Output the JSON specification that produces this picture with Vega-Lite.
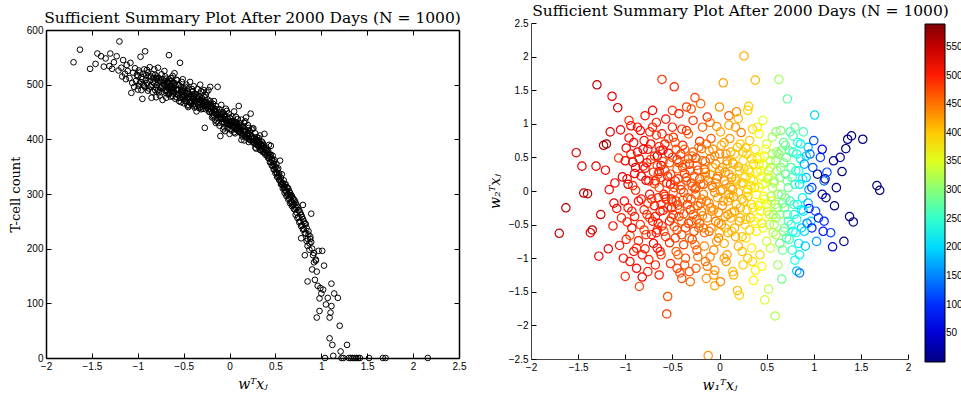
{
"$schema":"https://vega.github.io/schema/vega-lite/v6.json",
"background":"white",
"padding":{"left":9,"top":3,"right":0,"bottom":0},
"spacing":22,
"config":{"view":{"stroke":null},"axis":{"grid":false,"labelFont":"Liberation Sans","labelFontSize":10,"labelColor":"black","tickColor":"black","domainColor":"black","titleFont":"DejaVu Serif","titleFontWeight":"normal","titleColor":"black","titleFontSize":13}},
"datasets":{"d":[
{"x":-1.70,"c":541,"v":-0.63},{"x":-1.63,"c":564,"v":-0.25},{"x":-1.52,"c":529,"v":0.57},{"x":-1.46,"c":538,"v":0.37},{"x":-1.44,"c":557,"v":-0.03},{"x":-1.40,"c":552,"v":-0.04},{"x":-1.37,"c":533,"v":-0.62},{"x":-1.35,"c":548,"v":-0.58},{"x":-1.31,"c":534,"v":0.37},{"x":-1.30,"c":557,"v":1.58},{"x":-1.28,"c":529,"v":-0.97},{"x":-1.26,"c":541,"v":-0.35},{"x":-1.23,"c":552,"v":0.68},{"x":-1.20,"c":579,"v":0.70},{"x":-1.21,"c":526,"v":0.31},{"x":-1.18,"c":531,"v":-0.86},{"x":-1.17,"c":515,"v":0.02},{"x":-1.16,"c":545,"v":0.88},{"x":-1.14,"c":520,"v":1.41},{"x":-1.13,"c":510,"v":-0.52},{"x":-1.12,"c":536,"v":-0.18},{"x":-1.11,"c":525,"v":0.12},
{"x":-1.09,"c":512,"v":-0.26},{"x":-1.08,"c":540,"v":1.24},{"x":-1.07,"c":485,"v":0.49},{"x":-1.06,"c":503,"v":-0.81},{"x":-1.05,"c":522,"v":0.91},{"x":-1.04,"c":496,"v":-0.40},{"x":-1.03,"c":530,"v":0.21},{"x":-1.02,"c":507,"v":-1.00},{"x":-1.01,"c":518,"v":-0.15},{"x":-1.00,"c":491,"v":-1.27},{"x":-0.99,"c":526,"v":0.64},{"x":-0.98,"c":502,"v":-0.46},{"x":-0.97,"c":551,"v":0.10},{"x":-0.96,"c":514,"v":0.79},{"x":-0.95,"c":474,"v":-0.66},{"x":-0.94,"c":520,"v":0.97},{"x":-0.93,"c":498,"v":-0.30},{"x":-0.92,"c":561,"v":0.43},{"x":-0.91,"c":509,"v":-0.90},{"x":-0.90,"c":527,"v":0.26},{"x":-0.89,"c":489,"v":0.01},{"x":-0.88,"c":515,"v":-1.15},{"x":-0.87,"c":532,"v":0.58},{"x":-0.86,"c":496,"v":-0.74},{"x":-0.85,"c":476,"v":-1.42},{"x":-0.84,"c":519,"v":0.90},{"x":-0.83,"c":505,"v":-0.12},{"x":-0.82,"c":528,"v":-1.28},{"x":-0.81,"c":490,"v":0.37},{"x":-0.80,"c":477,"v":-0.58},{"x":-0.80,"c":512,"v":0.75},
{"x":-0.79,"c":500,"v":-0.86},{"x":-0.78,"c":531,"v":0.16},{"x":-0.77,"c":486,"v":-0.35},{"x":-0.76,"c":508,"v":0.62},{"x":-0.75,"c":494,"v":-1.02},{"x":-0.74,"c":519,"v":-0.05},{"x":-0.73,"c":472,"v":0.47},{"x":-0.72,"c":503,"v":-0.65},{"x":-0.71,"c":525,"v":1.20},{"x":-0.70,"c":489,"v":0.28},{"x":-0.69,"c":511,"v":-0.22},{"x":-0.68,"c":497,"v":-1.10},{"x":-0.67,"c":482,"v":0.83},{"x":-0.66,"c":554,"v":0.52},{"x":-0.65,"c":507,"v":-0.48},{"x":-0.64,"c":478,"v":0.05},{"x":-0.63,"c":496,"v":-0.90},{"x":-0.62,"c":516,"v":0.38},{"x":-0.61,"c":488,"v":1.66},{"x":-0.60,"c":503,"v":-0.29},{"x":-0.59,"c":474,"v":-0.60},{"x":-0.58,"c":509,"v":0.70},{"x":-0.57,"c":492,"v":-0.12},{"x":-0.56,"c":481,"v":-1.83},{"x":-0.55,"c":499,"v":0.22},{"x":-0.55,"c":470,"v":-1.57},{"x":-0.54,"c":540,"v":0.56},{"x":-0.53,"c":486,"v":-0.77},{"x":-0.52,"c":505,"v":0.10},{"x":-0.51,"c":477,"v":-0.40},{"x":-0.50,"c":494,"v":0.95},{"x":-0.50,"c":466,"v":-0.16},
{"x":-0.79,"c":515,"v":0.34},{"x":-0.76,"c":480,"v":-0.18},{"x":-0.74,"c":498,"v":0.88},{"x":-0.71,"c":506,"v":-0.45},{"x":-0.69,"c":476,"v":0.11},{"x":-0.66,"c":492,"v":-0.58},{"x":-0.64,"c":512,"v":0.29},{"x":-0.62,"c":484,"v":-0.95},{"x":-0.60,"c":521,"v":0.61},{"x":-0.58,"c":490,"v":-0.08},{"x":-0.57,"c":508,"v":1.07},{"x":-0.53,"c":468,"v":0.42},{"x":-0.52,"c":488,"v":-1.08},{"x":-0.51,"c":510,"v":-0.25},
{"x":-0.49,"c":488,"v":0.80},{"x":-0.48,"c":471,"v":-0.53},{"x":-0.47,"c":500,"v":0.15},{"x":-0.46,"c":462,"v":-0.90},{"x":-0.45,"c":493,"v":0.47},{"x":-0.44,"c":478,"v":-0.21},{"x":-0.43,"c":505,"v":1.15},{"x":-0.42,"c":466,"v":-1.22},{"x":-0.41,"c":487,"v":0.02},{"x":-0.40,"c":474,"v":-0.65},{"x":-0.39,"c":497,"v":0.68},{"x":-0.38,"c":458,"v":-0.34},{"x":-0.37,"c":483,"v":0.26},{"x":-0.36,"c":470,"v":-1.00},{"x":-0.35,"c":492,"v":0.90},{"x":-0.34,"c":463,"v":-0.10},{"x":-0.33,"c":479,"v":-0.48},{"x":-0.32,"c":500,"v":0.40},{"x":-0.31,"c":455,"v":-1.35},{"x":-0.30,"c":475,"v":0.12},{"x":-0.29,"c":486,"v":-0.72},{"x":-0.28,"c":468,"v":0.58},{"x":-0.27,"c":421,"v":-0.26},{"x":-0.26,"c":481,"v":1.39},{"x":-0.25,"c":459,"v":-0.05},{"x":-0.24,"c":473,"v":-0.88},{"x":-0.23,"c":490,"v":0.31},{"x":-0.22,"c":450,"v":-0.55},{"x":-0.21,"c":496,"v":0.74},{"x":-0.20,"c":465,"v":-0.18},
{"x":-0.49,"c":470,"v":-0.02},{"x":-0.47,"c":484,"v":-0.70},{"x":-0.45,"c":459,"v":0.33},{"x":-0.43,"c":476,"v":-0.38},{"x":-0.41,"c":492,"v":0.55},{"x":-0.39,"c":465,"v":-0.14},{"x":-0.37,"c":471,"v":-1.10},{"x":-0.35,"c":480,"v":0.20},{"x":-0.33,"c":457,"v":0.85},{"x":-0.31,"c":488,"v":-0.28},{"x":-0.29,"c":463,"v":0.07},{"x":-0.27,"c":477,"v":-0.60},{"x":-0.25,"c":486,"v":0.49},{"x":-0.23,"c":455,"v":-0.98},{"x":-0.21,"c":470,"v":0.18},{"x":-0.48,"c":496,"v":1.55},{"x":-0.44,"c":462,"v":-0.95},{"x":-0.40,"c":488,"v":0.92},{"x":-0.36,"c":451,"v":0.40},{"x":-0.32,"c":472,"v":-1.20},{"x":-0.28,"c":490,"v":1.05},{"x":-0.24,"c":461,"v":-0.42},{"x":-0.46,"c":476,"v":0.62},{"x":-0.38,"c":482,"v":-0.80},{"x":-0.30,"c":460,"v":-0.45},{"x":-0.26,"c":468,"v":0.03},
{"x":-0.19,"c":458,"v":0.63},{"x":-0.18,"c":442,"v":-0.37},{"x":-0.17,"c":470,"v":0.10},{"x":-0.16,"c":436,"v":-0.82},{"x":-0.15,"c":461,"v":0.44},{"x":-0.14,"c":447,"v":-0.15},{"x":-0.13,"c":496,"v":1.10},{"x":-0.12,"c":430,"v":-2.45},{"x":-0.11,"c":455,"v":-0.60},{"x":-0.10,"c":406,"v":0.25},{"x":-0.10,"c":440,"v":-0.98},{"x":-0.09,"c":463,"v":0.78},{"x":-0.08,"c":431,"v":-0.30},{"x":-0.07,"c":449,"v":0.05},{"x":-0.06,"c":422,"v":-1.25},{"x":-0.05,"c":444,"v":0.52},{"x":-0.05,"c":415,"v":-1.41},{"x":-0.04,"c":456,"v":-0.45},{"x":-0.03,"c":434,"v":0.96},{"x":-0.02,"c":420,"v":-0.10},{"x":-0.01,"c":447,"v":-0.70},{"x":0.00,"c":428,"v":0.30},{"x":0.01,"c":438,"v":-1.35},{"x":0.02,"c":416,"v":0.68},{"x":0.03,"c":442,"v":-0.22},{"x":0.04,"c":425,"v":1.61},{"x":0.05,"c":451,"v":0.15},{"x":0.06,"c":411,"v":-0.55},{"x":0.07,"c":430,"v":-1.05},{"x":0.08,"c":421,"v":0.40},{"x":0.09,"c":437,"v":-0.35},{"x":0.10,"c":461,"v":1.12},{"x":0.10,"c":415,"v":-0.05},
{"x":-0.19,"c":440,"v":-0.12},{"x":-0.17,"c":452,"v":-0.55},{"x":-0.15,"c":430,"v":0.22},{"x":-0.13,"c":446,"v":-1.12},{"x":-0.11,"c":425,"v":0.60},{"x":-0.09,"c":438,"v":-0.25},{"x":-0.07,"c":418,"v":0.35},{"x":-0.03,"c":452,"v":0.18},{"x":-0.01,"c":427,"v":-0.48},{"x":0.01,"c":419,"v":0.88},{"x":0.03,"c":433,"v":0.02},{"x":0.05,"c":413,"v":-0.78},{"x":0.07,"c":441,"v":0.55},{"x":0.09,"c":424,"v":-0.15},{"x":-0.18,"c":465,"v":0.95},{"x":-0.14,"c":433,"v":-1.30},{"x":-0.06,"c":443,"v":-0.88},{"x":0.00,"c":410,"v":-0.62},{"x":0.06,"c":432,"v":0.28},{"x":-0.16,"c":455,"v":0.32},{"x":-0.04,"c":429,"v":0.12},{"x":0.08,"c":418,"v":-0.95},
{"x":0.11,"c":430,"v":0.78},{"x":0.12,"c":412,"v":-0.40},{"x":0.13,"c":436,"v":0.20},{"x":0.14,"c":405,"v":-1.20},{"x":0.15,"c":423,"v":-0.08},{"x":0.16,"c":398,"v":0.55},{"x":0.17,"c":418,"v":-0.68},{"x":0.18,"c":440,"v":1.18},{"x":0.19,"c":409,"v":-1.48},{"x":0.20,"c":426,"v":0.36},{"x":0.21,"c":395,"v":-1.55},{"x":0.22,"c":415,"v":-0.25},{"x":0.23,"c":447,"v":0.87},{"x":0.24,"c":402,"v":-0.90},{"x":0.25,"c":420,"v":0.12},{"x":0.26,"c":420,"v":2.01},{"x":0.27,"c":392,"v":-0.50},{"x":0.28,"c":411,"v":0.64},{"x":0.29,"c":383,"v":-0.02},{"x":0.30,"c":404,"v":-1.00},{"x":0.31,"c":398,"v":1.26},{"x":0.32,"c":388,"v":0.28},{"x":0.33,"c":407,"v":-0.40},{"x":0.34,"c":380,"v":-0.85},{"x":0.35,"c":396,"v":0.92},{"x":0.36,"c":377,"v":-1.33},{"x":0.37,"c":390,"v":0.05},{"x":0.38,"c":410,"v":1.65},{"x":0.39,"c":372,"v":-0.60},{"x":0.40,"c":385,"v":0.48},
{"x":0.12,"c":425,"v":0.05},{"x":0.14,"c":416,"v":0.42},{"x":0.16,"c":430,"v":-0.30},{"x":0.18,"c":404,"v":0.15},{"x":0.20,"c":412,"v":-0.82},{"x":0.22,"c":399,"v":0.70},{"x":0.24,"c":418,"v":-0.12},{"x":0.26,"c":396,"v":0.33},{"x":0.28,"c":385,"v":-0.70},{"x":0.30,"c":395,"v":0.02},{"x":0.32,"c":402,"v":0.75},{"x":0.34,"c":390,"v":-0.20},{"x":0.36,"c":394,"v":0.40},{"x":0.38,"c":376,"v":-1.18},{"x":0.13,"c":399,"v":-0.60},{"x":0.17,"c":433,"v":0.95},{"x":0.21,"c":421,"v":-0.45},{"x":0.25,"c":405,"v":0.58},{"x":0.29,"c":400,"v":-0.28},{"x":0.33,"c":381,"v":0.18},
{"x":0.41,"c":378,"v":-0.22},{"x":0.42,"c":366,"v":0.85},{"x":0.43,"c":390,"v":-0.95},{"x":0.44,"c":358,"v":0.30},{"x":0.45,"c":388,"v":-0.48},{"x":0.46,"c":352,"v":1.05},{"x":0.47,"c":370,"v":-0.08},{"x":0.48,"c":345,"v":-1.62},{"x":0.49,"c":362,"v":0.62},{"x":0.50,"c":338,"v":-0.75},{"x":0.51,"c":355,"v":0.18},{"x":0.52,"c":331,"v":-1.46},{"x":0.53,"c":347,"v":-0.35},{"x":0.54,"c":326,"v":0.45},{"x":0.55,"c":361,"v":-0.15},{"x":0.56,"c":318,"v":0.80},{"x":0.57,"c":336,"v":-0.62},{"x":0.58,"c":310,"v":0.12},{"x":0.59,"c":325,"v":-1.86},{"x":0.60,"c":302,"v":-0.40},{"x":0.61,"c":318,"v":0.58},{"x":0.62,"c":296,"v":-0.05},{"x":0.63,"c":312,"v":1.66},{"x":0.64,"c":290,"v":-0.78},{"x":0.65,"c":305,"v":0.35},{"x":0.66,"c":283,"v":-1.31},{"x":0.67,"c":298,"v":-0.18},{"x":0.68,"c":278,"v":0.72},{"x":0.69,"c":292,"v":-0.55},{"x":0.70,"c":273,"v":0.25},
{"x":0.42,"c":380,"v":0.40},{"x":0.44,"c":372,"v":-0.30},{"x":0.46,"c":365,"v":0.10},{"x":0.48,"c":360,"v":0.52},{"x":0.50,"c":350,"v":-0.20},{"x":0.52,"c":345,"v":0.30},{"x":0.54,"c":338,"v":-0.85},{"x":0.56,"c":330,"v":0.05},{"x":0.58,"c":320,"v":-0.50},{"x":0.60,"c":312,"v":0.88},{"x":0.62,"c":305,"v":-0.25},{"x":0.64,"c":300,"v":0.20},{"x":0.66,"c":295,"v":0.60},{"x":0.68,"c":286,"v":-0.60},{"x":0.70,"c":282,"v":-0.10},
{"x":0.71,"c":288,"v":0.50},{"x":0.72,"c":275,"v":1.37},{"x":0.72,"c":262,"v":-0.35},{"x":0.73,"c":280,"v":0.05},{"x":0.74,"c":256,"v":-0.72},{"x":0.75,"c":270,"v":0.88},{"x":0.76,"c":248,"v":-0.50},{"x":0.77,"c":266,"v":0.20},{"x":0.78,"c":219,"v":-0.60},{"x":0.78,"c":241,"v":0.58},{"x":0.79,"c":258,"v":-0.20},{"x":0.80,"c":280,"v":0.95},{"x":0.80,"c":235,"v":-1.03},{"x":0.81,"c":250,"v":0.30},{"x":0.82,"c":188,"v":-1.19},{"x":0.82,"c":228,"v":-0.42},{"x":0.83,"c":245,"v":0.72},{"x":0.84,"c":214,"v":-0.78},{"x":0.85,"c":205,"v":0.10},{"x":0.85,"c":140,"v":-1.22},{"x":0.86,"c":232,"v":0.48},{"x":0.87,"c":198,"v":-0.55},{"x":0.88,"c":222,"v":-0.10},{"x":0.89,"c":264,"v":0.88},{"x":0.89,"c":212,"v":-0.30},{"x":0.90,"c":162,"v":0.40},{"x":0.91,"c":188,"v":-0.82},{"x":0.92,"c":175,"v":0.20},{"x":0.93,"c":143,"v":-0.48},{"x":0.94,"c":180,"v":0.65},{"x":0.95,"c":158,"v":0.02},{"x":0.95,"c":74,"v":-0.26},
{"x":0.96,"c":132,"v":0.55},{"x":0.97,"c":196,"v":-0.45},{"x":0.98,"c":109,"v":0.05},{"x":0.98,"c":86,"v":-0.55},{"x":0.99,"c":128,"v":0.35},{"x":1.00,"c":118,"v":0.75},{"x":1.01,"c":196,"v":1.13},{"x":1.02,"c":125,"v":-0.30},{"x":1.03,"c":169,"v":-0.75},{"x":1.04,"c":0,"v":0.25},{"x":1.05,"c":98,"v":-0.40},{"x":1.07,"c":110,"v":0.50},{"x":1.09,"c":74,"v":0.62},{"x":1.09,"c":36,"v":-0.05},{"x":1.10,"c":83,"v":-0.60},{"x":1.11,"c":136,"v":0.15},{"x":1.11,"c":95,"v":-0.45},{"x":1.12,"c":24,"v":0.18},{"x":1.13,"c":4,"v":-0.10},{"x":1.14,"c":118,"v":0.28},{"x":1.18,"c":110,"v":-0.62},{"x":1.20,"c":59,"v":-0.83},{"x":1.21,"c":12,"v":0.45},{"x":1.22,"c":0,"v":-0.22},{"x":1.24,"c":0,"v":0.05},{"x":1.28,"c":24,"v":0.50},{"x":1.30,"c":0,"v":0.29},{"x":1.32,"c":0,"v":-0.75},{"x":1.34,"c":0,"v":0.63},{"x":1.36,"c":0,"v":0.77},{"x":1.38,"c":0,"v":-0.38},{"x":1.40,"c":0,"v":0.82},{"x":1.42,"c":0,"v":-0.46},{"x":1.52,"c":0,"v":0.77},{"x":1.67,"c":0,"v":0.08},{"x":1.70,"c":0,"v":0.01},{"x":2.16,"c":0,"v":-0.14},
{"x":-0.68,"c":490,"v":0.15},{"x":-0.67,"c":505,"v":-0.62},{"x":-0.66,"c":483,"v":0.38},{"x":-0.65,"c":497,"v":-0.10},{"x":-0.64,"c":488,"v":0.66},{"x":-0.63,"c":502,"v":-0.30},{"x":-0.62,"c":479,"v":0.20},{"x":-0.61,"c":494,"v":-0.52},{"x":-0.60,"c":486,"v":0.44},{"x":-0.59,"c":498,"v":-0.05},{"x":-0.58,"c":477,"v":0.30},{"x":-0.57,"c":490,"v":-0.68},{"x":-0.56,"c":500,"v":0.12},{"x":-0.55,"c":484,"v":-0.25},{"x":-0.54,"c":476,"v":0.78},{"x":-0.53,"c":495,"v":-0.45},{"x":-0.52,"c":481,"v":0.25},{"x":-0.51,"c":490,"v":-0.12},{"x":-0.50,"c":474,"v":0.50},{"x":-0.49,"c":486,"v":-0.35},
{"x":-0.48,"c":479,"v":0.05},{"x":-0.47,"c":470,"v":0.72},{"x":-0.46,"c":488,"v":-0.15},{"x":-0.45,"c":474,"v":-0.58},{"x":-0.44,"c":483,"v":0.18},{"x":-0.43,"c":467,"v":0.42},{"x":-0.42,"c":479,"v":-0.28},{"x":-0.41,"c":470,"v":0.08},{"x":-0.40,"c":462,"v":-0.45},{"x":-0.39,"c":478,"v":0.35},{"x":-0.38,"c":470,"v":-0.02},{"x":-0.37,"c":461,"v":0.62},{"x":-0.36,"c":476,"v":-0.55},{"x":-0.35,"c":466,"v":0.15},{"x":-0.34,"c":474,"v":-0.20},{"x":-0.33,"c":468,"v":0.48},{"x":-0.32,"c":459,"v":-0.70},{"x":-0.31,"c":472,"v":0.30},{"x":-0.30,"c":466,"v":-0.12},{"x":-0.29,"c":456,"v":0.52},
{"x":-0.28,"c":470,"v":-0.35},{"x":-0.27,"c":462,"v":0.22},{"x":-0.26,"c":455,"v":-0.80},{"x":-0.25,"c":468,"v":0.05},{"x":-0.24,"c":458,"v":0.38},{"x":-0.23,"c":464,"v":-0.22},{"x":-0.22,"c":451,"v":0.65},{"x":-0.21,"c":460,"v":-0.48},{"x":-0.20,"c":453,"v":0.10},{"x":-0.19,"c":448,"v":-0.30},{"x":-0.18,"c":458,"v":0.45},{"x":-0.17,"c":444,"v":-0.05},{"x":-0.16,"c":452,"v":-0.62},{"x":-0.15,"c":446,"v":0.28},{"x":-0.14,"c":455,"v":0.70},{"x":-0.13,"c":440,"v":-0.40},{"x":-0.12,"c":449,"v":0.15},{"x":-0.11,"c":442,"v":-0.18},{"x":-0.10,"c":450,"v":0.48},{"x":-0.09,"c":437,"v":-0.55},
{"x":-0.08,"c":446,"v":0.08},{"x":-0.07,"c":438,"v":0.62},{"x":-0.06,"c":431,"v":-0.28},{"x":-0.05,"c":441,"v":-0.02},{"x":-0.04,"c":435,"v":0.40},{"x":-0.03,"c":428,"v":-0.75},{"x":-0.02,"c":438,"v":0.22},{"x":-0.01,"c":432,"v":-0.32},{"x":0.00,"c":440,"v":0.55},{"x":0.01,"c":426,"v":0.00},{"x":0.02,"c":433,"v":-0.50},{"x":0.03,"c":424,"v":0.35},{"x":0.04,"c":430,"v":-0.15},{"x":0.05,"c":421,"v":0.72},{"x":0.06,"c":427,"v":-0.38},{"x":0.07,"c":418,"v":0.10},{"x":0.08,"c":428,"v":0.45},{"x":0.09,"c":416,"v":-0.62},{"x":0.10,"c":424,"v":0.25},{"x":0.11,"c":414,"v":-0.10},
{"x":0.12,"c":420,"v":0.58},{"x":0.13,"c":411,"v":-0.32},{"x":0.14,"c":423,"v":0.02},{"x":0.15,"c":408,"v":0.40},{"x":0.16,"c":415,"v":-0.55},{"x":0.17,"c":406,"v":0.18},{"x":0.18,"c":414,"v":-0.20},{"x":0.19,"c":403,"v":0.65},{"x":0.20,"c":410,"v":-0.02},{"x":0.21,"c":402,"v":0.30},{"x":0.22,"c":408,"v":-0.40},{"x":0.23,"c":398,"v":0.12},{"x":0.24,"c":406,"v":-0.68},{"x":0.25,"c":396,"v":0.45},{"x":0.26,"c":402,"v":-0.15},{"x":0.27,"c":394,"v":0.20},{"x":0.28,"c":399,"v":-0.42},{"x":0.29,"c":391,"v":0.55},{"x":0.30,"c":397,"v":-0.08},{"x":0.31,"c":388,"v":0.32},
{"x":0.32,"c":394,"v":-0.58},{"x":0.33,"c":386,"v":0.08},{"x":0.34,"c":392,"v":0.48},{"x":0.35,"c":383,"v":-0.25},{"x":0.36,"c":388,"v":0.15},{"x":0.37,"c":378,"v":-0.45},{"x":0.38,"c":384,"v":0.62},{"x":0.39,"c":375,"v":-0.05},{"x":0.40,"c":380,"v":0.28},{"x":0.41,"c":370,"v":-0.40},{"x":0.42,"c":375,"v":0.05},{"x":0.43,"c":366,"v":0.50},{"x":0.44,"c":368,"v":-0.18},{"x":0.45,"c":358,"v":0.22},{"x":0.46,"c":362,"v":-0.55},{"x":0.47,"c":352,"v":0.38},{"x":0.48,"c":355,"v":-0.12},{"x":0.49,"c":345,"v":0.12},{"x":0.50,"c":348,"v":0.70},{"x":0.51,"c":340,"v":-0.30},
{"x":0.52,"c":338,"v":0.20},{"x":0.53,"c":332,"v":-0.50},{"x":0.54,"c":334,"v":0.35},{"x":0.55,"c":325,"v":-0.08},{"x":0.56,"c":322,"v":0.55},{"x":0.57,"c":318,"v":-0.35},{"x":0.58,"c":316,"v":0.15},{"x":0.59,"c":312,"v":-0.20},{"x":0.60,"c":308,"v":0.45},
{"x":-1.00,"c":515,"v":0.45},{"x":-0.99,"c":498,"v":-0.72},{"x":-0.98,"c":522,"v":0.18},{"x":-0.97,"c":505,"v":-0.25},{"x":-0.96,"c":490,"v":1.05},{"x":-0.95,"c":510,"v":-1.05},{"x":-0.94,"c":500,"v":0.55},{"x":-0.93,"c":528,"v":-0.55},{"x":-0.92,"c":495,"v":0.08},{"x":-0.91,"c":517,"v":0.72},{"x":-0.90,"c":503,"v":-0.38},{"x":-0.89,"c":522,"v":0.35},{"x":-0.88,"c":493,"v":-0.85},{"x":-0.87,"c":507,"v":0.95},{"x":-0.86,"c":515,"v":-0.15},{"x":-0.85,"c":499,"v":0.48},{"x":-0.84,"c":487,"v":-0.50},{"x":-0.83,"c":512,"v":0.22},{"x":-0.82,"c":502,"v":-0.95},{"x":-0.81,"c":518,"v":0.62},
{"x":-0.80,"c":495,"v":-0.28},{"x":-0.79,"c":509,"v":1.12},{"x":-0.78,"c":490,"v":-0.65},{"x":-0.77,"c":512,"v":0.42},{"x":-0.76,"c":497,"v":-1.20},{"x":-0.75,"c":505,"v":0.15},{"x":-0.74,"c":486,"v":-0.40},{"x":-0.73,"c":510,"v":0.70},{"x":-0.72,"c":494,"v":-0.12},{"x":-0.71,"c":500,"v":0.95},{"x":-0.70,"c":515,"v":-0.78},{"x":-0.69,"c":488,"v":0.52},{"x":-0.68,"c":503,"v":-0.38},{"x":-0.67,"c":495,"v":1.02},{"x":-0.66,"c":510,"v":-0.85},{"x":-0.65,"c":485,"v":0.25},{"x":-0.64,"c":498,"v":-1.25},{"x":-0.63,"c":507,"v":0.60},{"x":-0.62,"c":490,"v":-0.20},{"x":-0.61,"c":502,"v":0.85},
{"x":0.60,"c":318,"v":-0.65},{"x":0.61,"c":305,"v":0.30},{"x":0.62,"c":312,"v":-1.10},{"x":0.63,"c":298,"v":0.55},{"x":0.64,"c":310,"v":-0.35},{"x":0.65,"c":292,"v":0.90},{"x":0.66,"c":302,"v":-0.05},{"x":0.67,"c":285,"v":-0.88},{"x":0.68,"c":296,"v":0.42},{"x":0.69,"c":280,"v":-0.25},{"x":0.70,"c":290,"v":0.68},{"x":0.71,"c":272,"v":-0.70},{"x":0.72,"c":284,"v":0.15},{"x":0.73,"c":266,"v":-0.45},{"x":0.74,"c":276,"v":0.60},{"x":0.75,"c":258,"v":-0.15},{"x":0.76,"c":270,"v":0.35},{"x":0.77,"c":250,"v":-0.88},{"x":0.78,"c":262,"v":0.82},{"x":0.79,"c":243,"v":-0.35},
{"x":0.80,"c":254,"v":0.10},{"x":0.81,"c":236,"v":-0.62},{"x":0.82,"c":246,"v":0.55},{"x":0.83,"c":228,"v":-0.20},{"x":0.84,"c":238,"v":0.30},{"x":0.85,"c":218,"v":-0.95},{"x":0.86,"c":226,"v":0.70},{"x":0.87,"c":210,"v":-0.28},{"x":0.88,"c":218,"v":0.18},{"x":0.90,"c":200,"v":-0.60},{"x":0.92,"c":192,"v":0.52},{"x":0.94,"c":178,"v":-0.18},
{"x":-0.30,"c":470,"v":1.22},{"x":-0.25,"c":462,"v":-1.15},{"x":-0.20,"c":458,"v":1.30},{"x":-0.15,"c":450,"v":-1.05},{"x":-0.10,"c":445,"v":1.02},{"x":-0.05,"c":437,"v":-1.18},{"x":0.00,"c":432,"v":1.25},{"x":0.05,"c":425,"v":-1.00},{"x":0.10,"c":420,"v":0.98},{"x":0.15,"c":415,"v":-1.25},{"x":0.20,"c":408,"v":1.08},{"x":0.25,"c":400,"v":-1.10},{"x":0.30,"c":394,"v":1.20},{"x":0.35,"c":388,"v":-1.05},{"x":0.40,"c":380,"v":0.95},{"x":0.45,"c":372,"v":-1.12},{"x":-0.40,"c":476,"v":-1.30},{"x":-0.35,"c":478,"v":1.25},{"x":-0.45,"c":485,"v":-1.15},{"x":-0.50,"c":482,"v":1.20}
]},
"hconcat":[
{"width":413,"height":335,
 "title":{"text":"Sufficient Summary Plot After 2000 Days (N = 1000)","font":"DejaVu Serif","fontSize":15.5,"fontWeight":"normal","color":"black","offset":-3},
 "layer":[
  {"data":{"name":"d"},
   "mark":{"type":"point","shape":"circle","filled":false,"size":32,"stroke":"black","strokeWidth":1,"opacity":1},
   "encoding":{
    "x":{"field":"x","type":"quantitative","scale":{"domain":[-2,2.5],"nice":false,"zero":false},
         "axis":{"orient":"bottom","values":[-2,-1.5,-1,-0.5,0,0.5,1,1.5,2,2.5],"format":"~g","labelFlush":false,"tickSize":-5,"labelPadding":8,"title":"wᵀxⱼ","titleFontStyle":"italic","titleFontSize":14,"titlePadding":6,"domainWidth":1.5}},
    "y":{"field":"c","type":"quantitative","scale":{"domain":[0,600],"nice":false,"range":[335,7]},
         "axis":{"orient":"left","values":[0,100,200,300,400,500,600],"tickSize":-5,"labelPadding":8,"title":"T-cell count","titlePadding":4,"domainWidth":1.5}}}},
  {"data":{"name":"d"},"transform":[{"filter":"false"}],
   "mark":{"type":"point"},
   "encoding":{
    "x":{"field":"x","type":"quantitative","axis":{"orient":"top","offset":-7,"values":[-2,-1.5,-1,-0.5,0,0.5,1,1.5,2,2.5],"labels":false,"tickSize":-5,"title":null,"domainWidth":1.5}},
    "y":{"field":"c","type":"quantitative","axis":{"orient":"right","values":[0,100,200,300,400,500,600],"labels":false,"tickSize":-5,"title":null,"domainWidth":1.5}}}}
 ]
},
{"width":377,"height":336,
 "title":{"text":"Sufficient Summary Plot After 2000 Days (N = 1000)","font":"DejaVu Serif","fontSize":15.5,"fontWeight":"normal","color":"black","offset":-1,"dx":21},
 "data":{"name":"d"},
 "mark":{"type":"point","shape":"circle","filled":false,"size":70,"strokeWidth":1.2,"opacity":1,"clip":true},
 "encoding":{
  "x":{"field":"x","type":"quantitative","scale":{"domain":[-2,2],"nice":false,"zero":false},
       "axis":{"values":[-2,-1.5,-1,-0.5,0,0.5,1,1.5,2],"format":"~g","labelFlush":false,"tickSize":-5,"labelPadding":8,"title":"w₁ᵀxⱼ","titleFontStyle":"italic","titleFontSize":14,"titlePadding":6,"domainColor":"#444"}},
  "y":{"field":"v","type":"quantitative","scale":{"domain":[-2.5,2.5],"nice":false,"zero":false},
       "axis":{"values":[-2.5,-2,-1.5,-1,-0.5,0,0.5,1,1.5,2,2.5],"format":"~g","tickSize":-5,"labelPadding":8,"title":"w₂ᵀxⱼ","titleFontStyle":"italic","titleFontSize":14,"titlePadding":6,"domainColor":"#444"}},
  "stroke":{"field":"c","type":"quantitative",
       "scale":{"domain":[0,73.75,221.25,368.75,516.25,590],"range":["#000080","#0000ff","#00ffff","#ffff00","#ff0000","#800000"],"interpolate":"rgb"},
       "legend":{"title":null,"orient":"none","legendX":879,"legendY":1,"direction":"vertical","gradientLength":338,"gradientThickness":20,"gradientStrokeColor":"black","gradientStrokeWidth":1,"values":[50,100,150,200,250,300,350,400,450,500,550],"labelFont":"Liberation Sans","labelFontSize":10,"labelColor":"black","labelOffset":1}}}
}
]
}
